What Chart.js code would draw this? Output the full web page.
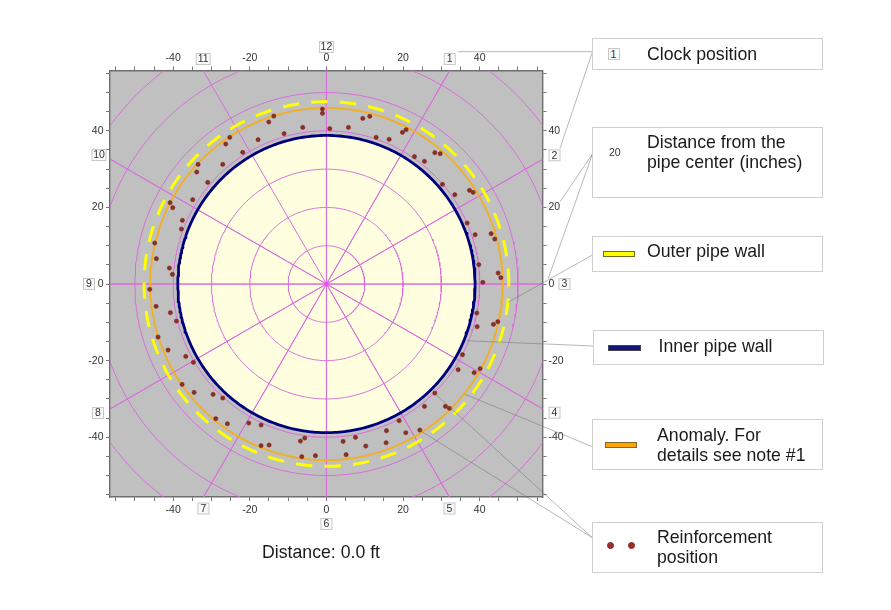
<!DOCTYPE html>
<html><head><meta charset="utf-8">
<style>
html,body{margin:0;padding:0;background:#fff;width:891px;height:610px;overflow:hidden}
#wrap{position:relative;width:891px;height:610px;font-family:"Liberation Sans",Arial,sans-serif;color:#1a1a1a}
canvas{position:absolute;left:0;top:0}
svg{position:absolute;left:0;top:0}
.box{position:absolute;box-sizing:border-box;border:1px solid #cfcfcf;background:#fff}
.t{position:absolute;font-size:17.7px;line-height:20px;white-space:nowrap}
.sw{position:absolute;box-sizing:border-box}
.dot{position:absolute;width:7px;height:7px;border-radius:50%;background:#a52a2a;border:1px solid #7a2a20;box-sizing:border-box}
</style>
<script src="https://cdn.jsdelivr.net/npm/chart.js@4/dist/chart.umd.min.js"></script>
</head><body>
<div id="wrap">
<canvas id="c" width="891" height="610"></canvas>
<svg width="891" height="610" id="leaders"></svg>
<div class="t" style="left:262px;top:542px">Distance: 0.0 ft</div>
<div id="legend"></div>
</div>
<script>
// ---- data ----
const gridRadii = [10, 20, 30, 40, 50, 60, 70];
const innerWallRadius = 38.8;
const anomalyRadius = 46;
const outerWallRadius = 47.6;
const clockLabels = ['12','1','2','3','4','5','6','7','8','9','10','11'];
const axisTicksShown = [-40, -20, 0, 20, 40];
const reinforcementX = [
 -1.04,-1.04,-6.18,-11.05,-13.75,-15.06,-17.84,-21.85,-25.24,-26.28,-27.07,-33.51,-33.86,-30.98,-34.9,-40.82,-40.12,-37.6,-37.86,-44.82,-44.39,-40.99,-40.21,-46.13,
 0.87,5.74,9.49,11.31,12.97,16.36,19.84,20.8,22.98,25.59,28.29,29.68,30.29,33.51,37.34,38.29,36.73,38.82,42.99,43.95,39.77,40.82,44.82,45.52,
 -44.47,-40.73,-39.16,-43.95,-41.34,-36.73,-34.73,-37.68,-34.55,-29.59,-27.07,-28.89,-25.85,-20.28,-17.06,-17.06,-14.97,-6.79,-5.66,-6.44,-2.87,
 39.25,39.34,43.6,44.73,35.51,34.38,38.56,40.12,28.29,25.59,31.07,32.11,18.97,15.67,20.71,24.37,15.58,4.35,7.57,10.27,5.13];
const reinforcementY = [
 45.69,44.56,40.9,39.25,43.86,42.3,37.68,34.38,38.29,36.55,31.24,31.24,29.24,26.54,22.02,21.24,19.93,16.62,14.36,10.7,6.61,4.18,2.52,-1.39,
 40.56,40.9,43.25,43.78,38.29,37.77,39.6,40.3,33.25,32.03,34.29,34.03,26.02,23.32,24.46,23.93,15.93,12.88,13.14,11.75,5.05,0.44,2.87,1.65,
 -5.83,-7.48,-9.66,-13.84,-17.23,-18.89,-20.45,-26.2,-28.29,-28.81,-29.77,-35.16,-36.47,-36.29,-36.81,-42.21,-42.04,-41,-40.21,-45.08,-44.82,
 -7.57,-11.14,-10.53,-9.83,-18.45,-22.37,-23.15,-22.11,-28.46,-31.94,-31.94,-32.46,-35.68,-38.29,-38.82,-38.12,-41.43,-41.08,-40.03,-42.3,-44.56];

// ---- geometry helpers ----
const X_MIN=-56.5, X_MAX=56.4, Y_MIN=-55.6, Y_MAX=55.75;
function ring(r, startDeg){
  const pts=[]; const n=360;
  for(let i=0;i<=n;i++){
    const a=(startDeg-i*360/n)*Math.PI/180;   // clockwise on screen
    pts.push({x:r*Math.cos(a),y:r*Math.sin(a)});
  }
  return pts;
}
function spokes(){
  const pts=[];
  clockLabels.forEach((_,h)=>{
    const a=h*30*Math.PI/180;
    pts.push({x:0,y:0},{x:100*Math.sin(a),y:100*Math.cos(a)});
  });
  return pts;
}
const lineBase={showLine:true,pointRadius:0,fill:false,tension:0,borderJoinStyle:'round'};
const gridMagenta='#d96cdc';
const datasets=[
 {label:'Reinforcement position',showLine:false,
  data:reinforcementX.map((x,i)=>({x,y:reinforcementY[i]})),
  pointRadius:2.1,pointBackgroundColor:'#8f2d20',pointBorderColor:'#7a2a20',pointBorderWidth:0.6,order:1},
 {...lineBase,label:'Outer pipe wall',data:ring(outerWallRadius,4.4),borderColor:'#ffff00',borderWidth:3,borderDash:[16.4,12.2],borderCapStyle:'butt',order:2},
 {...lineBase,label:'Anomaly',data:ring(anomalyRadius,0),borderColor:'#f0b020',borderWidth:1.8,order:3},
 {...lineBase,label:'Inner pipe wall',data:ring(innerWallRadius,0),borderColor:'#00007f',borderWidth:2.8,order:4},
 {label:'center',showLine:false,data:[{x:0,y:0}],pointRadius:2,pointBackgroundColor:'#ff40ff',pointBorderWidth:0,order:5},
 {...lineBase,label:'clock spokes',data:spokes(),borderColor:gridMagenta,borderWidth:1,order:6},
 ...gridRadii.map((r,i)=>({...lineBase,label:'r'+r,data:ring(r,0),borderColor:gridMagenta,borderWidth:1,order:7+i})),
 {...lineBase,label:'pipe interior',data:ring(innerWallRadius,0),borderWidth:0,borderColor:'transparent',fill:{target:'shape'},backgroundColor:'#ffffe0',order:30}
];

const plotBg={id:'plotBg',beforeDraw(ch){
  const a=ch.chartArea,c=ch.ctx;
  c.save();c.fillStyle='#c0c0c0';c.fillRect(a.left,a.top,a.right-a.left,a.bottom-a.top);c.restore();
}};
const clockOffsets=[[0,-23.5],[0,-11.5],[12,-4],[22,0],[12,4],[0,11.5],[0,27],[0,11.5],[-12,4],[-21,0],[-11,-4],[0,-11.5]];
const clockTags={id:'clockTags',afterDraw(ch){
  const c=ch.ctx,sx=ch.scales.x,sy=ch.scales.y;
  c.save();c.font='10.5px "Liberation Sans",Arial,sans-serif';c.textAlign='center';c.textBaseline='middle';
  clockLabels.forEach((lab,h)=>{
    const a=h*30*Math.PI/180,dx=Math.sin(a),dy=Math.cos(a);
    const tx=Math.abs(dx)<1e-6?Infinity:(dx>0?X_MAX:-X_MIN)/Math.abs(dx);
    const ty=Math.abs(dy)<1e-6?Infinity:(dy>0?Y_MAX:-Y_MIN)/Math.abs(dy);
    const t=Math.min(tx,ty);
    const px=sx.getPixelForValue(dx*t)+clockOffsets[h][0],py=sy.getPixelForValue(dy*t)+clockOffsets[h][1];
    const w=lab.length>1?14:11,ht=11;
    c.fillStyle='#fafafa';c.strokeStyle='#c8c8c8';c.lineWidth=1;
    c.fillRect(px-w/2,py-ht/2,w,ht);c.strokeRect(px-w/2,py-ht/2,w,ht);
    c.fillStyle='#333';c.fillText(lab,px,py+0.5);
  });
  c.restore();
}};

function axis(position,min,max,size,pad){
  const horizontal=position==='top'||position==='bottom';
  return {type:'linear',position,min,max,
    afterFit(s){ if(horizontal) s.height=size; else s.width=size; },
    border:{display:true,color:'#6e6e6e',width:1.4},
    grid:{display:true,drawOnChartArea:false,drawTicks:true,tickLength:4,tickColor:'#777',tickWidth:1},
    ticks:{stepSize:5,includeBounds:false,autoSkip:false,maxRotation:0,padding:pad,color:'#333',
      font:{family:'"Liberation Sans",Arial,sans-serif',size:10.5},
      callback:v=>axisTicksShown.includes(v)?String(v):''}};
}
new Chart(document.getElementById('c'),{
  type:'scatter',
  data:{datasets},
  plugins:[plotBg,clockTags],
  options:{responsive:false,animation:false,events:[],
    layout:{padding:{left:80,right:318.5,top:40.5,bottom:83}},
    plugins:{legend:{display:false},tooltip:{enabled:false}},
    scales:{
      x:axis('bottom',X_MIN,X_MAX,30,3),
      xTop:axis('top',X_MIN,X_MAX,30,2.5),
      y:axis('left',Y_MIN,Y_MAX,30,2.5),
      yRight:axis('right',Y_MIN,Y_MAX,30,2)
    }}
});

// ---- callouts ----
const leaderLines=[
 [458,51.7,592.5,51.7],[560,148.3,592.5,51.7],
 [560,201.7,592.5,154],[548.3,278.3,592.5,154],
 [508,302.3,592.5,255],
 [466.7,340.7,593.3,346],
 [465,394.3,592.3,446.7],
 [434.7,393.3,592.3,537.7],[419.7,430.3,592.3,537.7]];
document.getElementById('leaders').innerHTML=leaderLines.map(l=>
 `<line x1="${l[0]}" y1="${l[1]}" x2="${l[2]}" y2="${l[3]}" stroke="rgba(110,110,110,0.55)" stroke-width="0.9"/>`).join('');

const legendBoxes=[[592,38,231,32],[592,127,231,71],[592,236,231,35.5],[593,330,230.5,34.5],[592,419,231,50.5],[592,522,231,51]];
const legendTexts=[
 ['Clock position',647,44],['Distance from the',647,132],['pipe center (inches)',647,152],
 ['Outer pipe wall',647,241],['Inner pipe wall',658.5,336],
 ['Anomaly. For',657,425],['details see note #1',657,445],
 ['Reinforcement',657,527],['position',657,547]];
let html=legendBoxes.map(b=>`<div class="box" style="left:${b[0]}px;top:${b[1]}px;width:${b[2]}px;height:${b[3]}px"></div>`).join('');
html+=legendTexts.map(t=>`<div class="t" style="left:${t[1]}px;top:${t[2]}px">${t[0]}</div>`).join('');
html+=`<div class="sw" style="left:607.5px;top:48px;width:12px;height:11.5px;border:1px solid #c8c8c8;background:#fafafa;font-size:10.5px;line-height:10px;text-align:center;color:#333">1</div>`;
html+=`<div style="position:absolute;left:609px;top:146px;font-size:10.5px;line-height:12px;color:#333">20</div>`;
html+=`<div class="sw" style="left:602.5px;top:250.5px;width:32.5px;height:6px;background:#ffff00;border:1px solid #6b6b20"></div>`;
html+=`<div class="sw" style="left:607.5px;top:345px;width:33px;height:6px;background:#14147a;border:1px solid #444"></div>`;
html+=`<div class="sw" style="left:604.5px;top:441.5px;width:32.5px;height:6px;background:#ffa500;border:1px solid #7a6a30"></div>`;
html+=`<div class="dot" style="left:606.8px;top:542.2px"></div><div class="dot" style="left:628.2px;top:542.2px"></div>`;
document.getElementById('legend').innerHTML=html;
</script>
</body></html>
